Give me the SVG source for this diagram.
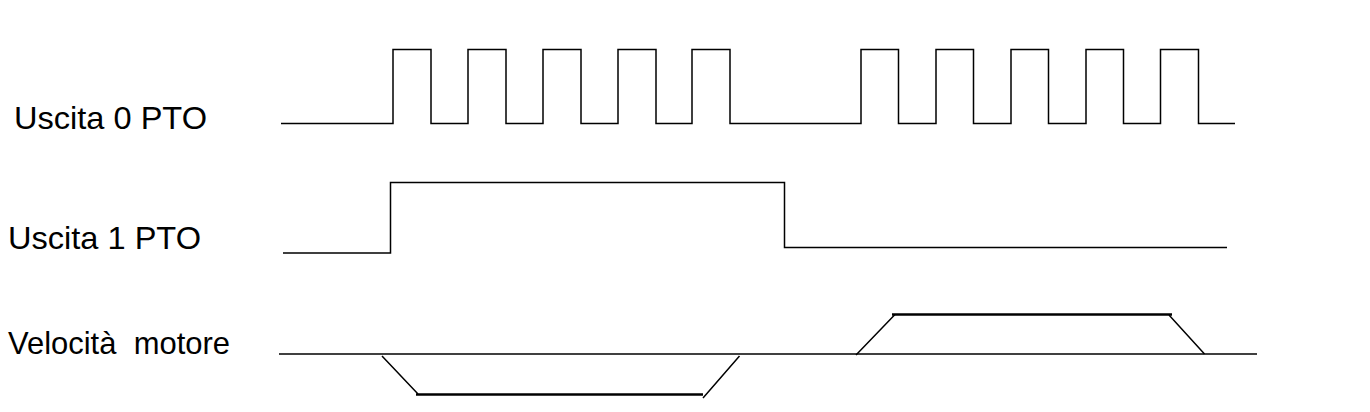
<svg xmlns="http://www.w3.org/2000/svg" width="1370" height="412" viewBox="0 0 1370 412">
<style>
.bg{fill:#ffffff}
.sig{fill:none;stroke:#000;stroke-width:1.5;stroke-linejoin:miter}
.thick{fill:none;stroke:#000;stroke-width:2.5}
.lbl{font-family:"Liberation Sans",Arial,sans-serif;font-size:30.5px;fill:#000;white-space:pre}
</style>
<rect class="bg" x="0" y="0" width="1370" height="412"/>
<g id="label-uscita0"><text class="lbl" x="14" y="128.5" textLength="193" lengthAdjust="spacingAndGlyphs">Uscita 0 PTO</text></g>
<g id="label-uscita1"><text class="lbl" x="8" y="249" textLength="193" lengthAdjust="spacingAndGlyphs">Uscita 1 PTO</text></g>
<g id="label-velocita"><text class="lbl" x="8" y="353.5" textLength="222" lengthAdjust="spacingAndGlyphs" xml:space="preserve">Velocità  motore</text></g>
<g id="connectors">
<path id="trace-uscita0" class="sig" d="M281,123.5 H393 V49.5 H431 V123.5 H468 V49.5 H506 V123.5 H543 V49.5 H581 V123.5 H618 V49.5 H656 V123.5 H692 V49.5 H730 V123.5 H861 V49.5 H898.5 V123.5 H936 V49.5 H973.5 V123.5 H1011 V49.5 H1048.5 V123.5 H1086 V49.5 H1123.5 V123.5 H1160.5 V49.5 H1198.5 V123.5 H1235"/>
<path id="trace-uscita1" class="sig" d="M283,253 H390.5 V182.5 H784.5 V247.5 H1227"/>
<path id="trace-velocita-base" class="sig" d="M279,354 H1257"/>
<path id="trace-velocita-neg" class="sig" d="M382,356 L418,394 M703,398 L739.5,356"/>
<path class="thick" d="M416,394.5 H703"/>
<path id="trace-velocita-pos" class="sig" d="M856,355 L895,314.5 M1169,315 L1204.5,354"/>
<path class="thick" d="M892,314.5 H1172"/>
</g>
</svg>
